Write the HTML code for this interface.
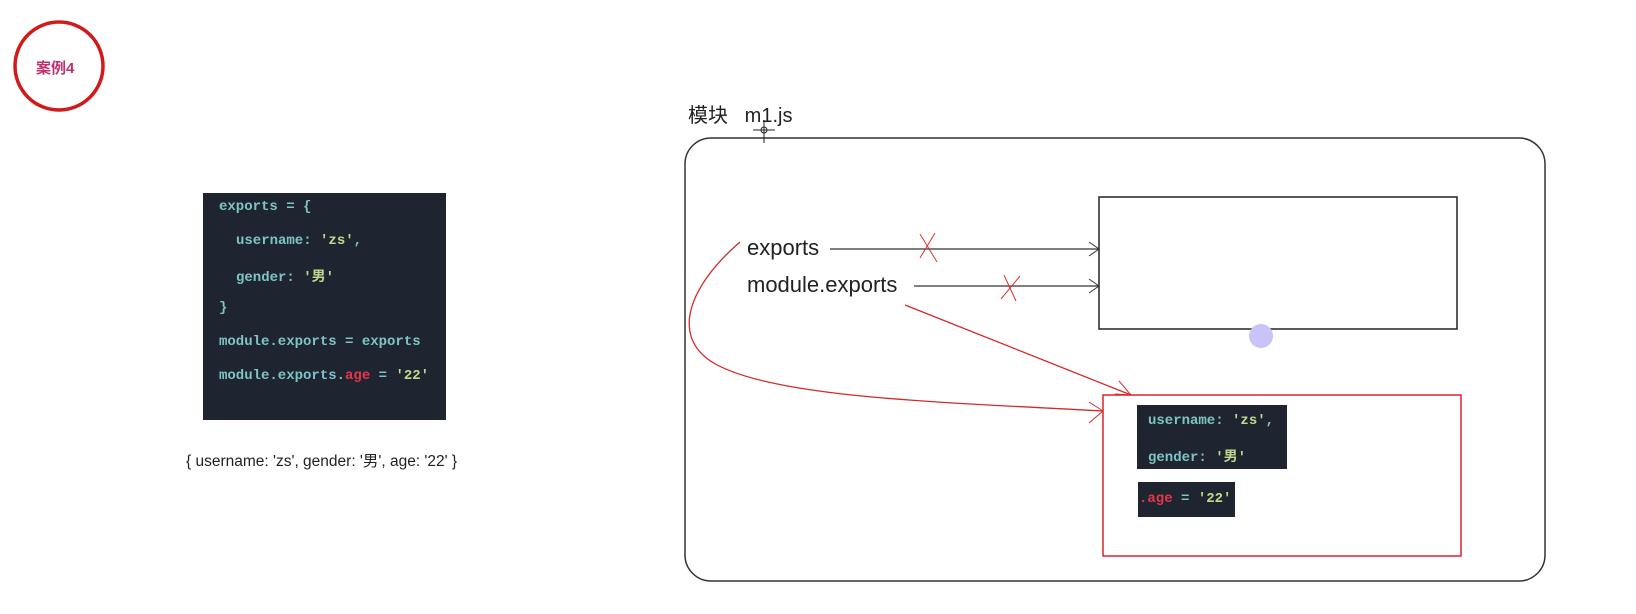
<!DOCTYPE html>
<html><head><meta charset="utf-8"><style>
body{margin:0;width:1636px;height:614px;background:#fff;position:relative;overflow:hidden;font-family:"Liberation Sans","Noto Sans CJK SC",sans-serif}
.code{position:absolute;background:#1e2530;font-family:"Liberation Mono","Noto Sans CJK SC",monospace;font-size:14px;color:#7ec4c4;font-weight:bold}
.code div{position:absolute;white-space:pre}
.s{color:#c3d88a}.r{color:#e8354a}
</style></head><body>
<svg width="1636" height="614" style="position:absolute;left:0;top:0">
<circle cx="59" cy="66" r="44" fill="none" stroke="#d21a1a" stroke-width="3.5"/>
<rect x="685" y="138" width="860" height="443" rx="26" fill="none" stroke="#333" stroke-width="1.5"/>
<rect x="1099" y="197" width="358" height="132" fill="none" stroke="#222" stroke-width="1.5"/>
<rect x="1103" y="395" width="358" height="161" fill="none" stroke="#e0202a" stroke-width="1.5"/>
<line x1="830" y1="249" x2="1099" y2="249" stroke="#333" stroke-width="1.3"/>
<polyline points="1089,242 1099,249 1089,256" fill="none" stroke="#333"/>
<line x1="914" y1="286" x2="1099" y2="286" stroke="#333" stroke-width="1.3"/>
<polyline points="1089,279 1099,286 1089,293" fill="none" stroke="#333"/>
<g stroke="#e03030" stroke-width="1"><line x1="920" y1="234" x2="937" y2="262"/><line x1="935" y1="233" x2="920" y2="258"/>
<line x1="1004" y1="275" x2="1016" y2="301"/><line x1="1020" y1="276" x2="1001" y2="299"/></g>
<path d="M740 242 C 690 285, 670 335, 712 362 C 770 398, 940 402, 1103 411" fill="none" stroke="#d42a2a" stroke-width="1.3"/>
<polyline points="1089,402 1103,411 1089,423" fill="none" stroke="#d42a2a"/>
<line x1="905" y1="305" x2="1131" y2="395" stroke="#d42a2a" stroke-width="1.3"/>
<polyline points="1119,381 1131,395 1115,394" fill="none" stroke="#d42a2a"/>
<circle cx="1261" cy="336" r="12" fill="#c8c4f8"/>
<g stroke="#222" stroke-width="1"><circle cx="764" cy="130" r="3" fill="none"/><line x1="753" y1="130" x2="775" y2="130"/><line x1="764" y1="120" x2="764" y2="143"/></g>
</svg>
<div style="position:absolute;left:36px;top:57px;font-size:15px;color:#c03070;font-weight:bold">案例4</div>
<div style="position:absolute;left:688px;top:99px;font-size:20px;color:#222">模块&nbsp;&nbsp;&nbsp;m1.js</div>
<div style="position:absolute;left:747px;top:235px;font-size:22px;color:#222">exports</div>
<div style="position:absolute;left:747px;top:272px;font-size:22px;color:#222">module.exports</div>
<div class="code" style="left:203px;top:193px;width:243px;height:227px">
<div style="left:16px;top:6px">exports = {</div>
<div style="left:33px;top:40px">username: <span class="s">'zs'</span>,</div>
<div style="left:33px;top:73px">gender: <span class="s">'男'</span></div>
<div style="left:16px;top:107px">}</div>
<div style="left:16px;top:141px">module.exports = exports</div>
<div style="left:16px;top:175px">module.exports.<span class="r">age</span> = <span class="s">'22'</span></div>
</div>
<div style="position:absolute;left:186px;top:449px;font-size:15.5px;color:#222">{ username: 'zs', gender: '男', age: '22' }</div>
<div class="code" style="left:1137px;top:405px;width:150px;height:64px">
<div style="left:11px;top:8px">username: <span class="s">'zs'</span>,</div>
<div style="left:11px;top:41px">gender: <span class="s">'男'</span></div>
</div>
<div class="code" style="left:1138px;top:482px;width:97px;height:35px">
<div style="left:1px;top:9px"><span class="r">.age</span> = <span class="s">'22'</span></div>
</div>
</body></html>
